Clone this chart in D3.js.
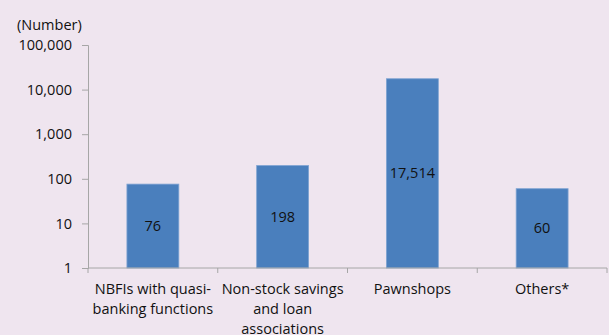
<!DOCTYPE html>
<html><head><meta charset="utf-8">
<script src="https://cdn.jsdelivr.net/npm/d3@7"></script>
<style>
html,body{margin:0;padding:0;background:#efe5ef;}
svg{display:block;}
text{font-family:"Open Sans",sans-serif;fill:#111;}
</style></head>
<body>
<svg id="chart" width="609" height="335"></svg>
<script>
const categories = [
  ["NBFIs with quasi-","banking functions"],
  ["Non-stock savings","and loan","associations"],
  ["Pawnshops"],
  ["Others*"]
];
const values = [76, 198, 17514, 60];
const yTicks = [1, 10, 100, 1000, 10000, 100000];
const yUnit = "(Number)";

const W = 609, H = 335;
const m = {left: 88, right: 2, top: 45, bottom: 67};
const svg = d3.select("#chart");
svg.append("rect").attr("width", W).attr("height", H).attr("fill", "#efe5ef");

const x = d3.scaleBand().domain(d3.range(categories.length))
  .range([m.left, W - m.right]).paddingInner(0.6).paddingOuter(0.3);
const xb = d3.scaleBand().domain(d3.range(categories.length)).range([m.left, W - m.right]);
const y = d3.scaleLog().domain([1, 100000]).range([H - m.bottom, m.top]);
const fmt = d3.format(",");
const axisColor = "#a6a6a6";

// y axis
const ya = svg.append("g").attr("transform", `translate(${m.left},0)`)
  .call(d3.axisLeft(y).tickValues(yTicks).tickFormat(fmt).tickSize(6).tickPadding(10));
ya.select(".domain").attr("stroke", axisColor);
ya.selectAll(".tick line").attr("stroke", axisColor);
ya.selectAll(".tick text").attr("font-size", "14.5px").attr("fill", "#111")
  .attr("font-family", "'Open Sans',sans-serif");

svg.append("text").attr("x", 17).attr("y", 30).attr("font-size", "14.5px").text(yUnit);

// bars
svg.append("g").selectAll("rect").data(values).join("rect")
  .attr("x", (d, i) => x(i)).attr("width", x.bandwidth())
  .attr("y", d => y(d)).attr("height", d => y(1) - y(d))
  .attr("fill", "#4a7fbd").attr("stroke", "#7ea3d2").attr("stroke-width", 0.8);

// value labels
svg.append("g").selectAll("text").data(values).join("text")
  .attr("x", (d, i) => x(i) + x.bandwidth() / 2)
  .attr("y", d => (y(d) + y(1)) / 2)
  .attr("dy", "0.35em").attr("text-anchor", "middle")
  .attr("font-size", "14.5px").text(d => fmt(d));

// x axis
const y0 = y(1);
const xa = svg.append("g");
xa.append("line").attr("x1", m.left).attr("x2", W - m.right).attr("y1", y0).attr("y2", y0)
  .attr("stroke", axisColor);
const bounds = d3.range(categories.length + 1).map(i => i < categories.length ? xb(i) : xb(i - 1) + xb.bandwidth());
xa.selectAll("line.tk").data(bounds).join("line").attr("class", "tk")
  .attr("x1", d => d).attr("x2", d => d).attr("y1", y0).attr("y2", y0 + 5)
  .attr("stroke", axisColor);
const lbl = xa.selectAll("text.cat").data(categories).join("text").attr("class", "cat")
  .attr("text-anchor", "middle").attr("font-size", "14.5px")
  .attr("x", (d, i) => xb(i) + xb.bandwidth() / 2).attr("y", y0 + 26);
lbl.selectAll("tspan").data(d => d).join("tspan")
  .attr("x", function() { return this.parentNode.getAttribute("x"); })
  .attr("dy", (d, i) => i === 0 ? 0 : 20).text(d => d);
</script>
</body></html>
